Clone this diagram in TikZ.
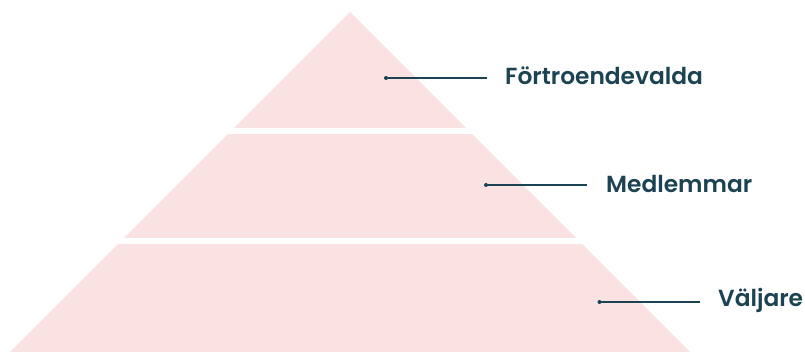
\documentclass[tikz,border=0pt]{standalone}
\usepackage{fontspec}
\newfontfamily\labelfont{Poppins}[BoldFont=* SemiBold]
\definecolor{pyrpink}{RGB}{250,226,226}
\definecolor{labteal}{RGB}{27,67,83}
\begin{document}
\begin{tikzpicture}[x=1pt,y=-1pt,
  band/.style={fill=pyrpink,draw=none},
  gap/.style={fill=white,draw=none},
  leader/.style={draw=labteal,line width=1.1pt},
  dotmark/.style={circle,fill=labteal,inner sep=0pt,minimum size=4pt},
  lab/.style={font=\labelfont\bfseries\fontsize{23.3}{26}\selectfont,text=labteal,anchor=west,inner sep=0pt}]
\useasboundingbox (0,0) rectangle (805,352);
\fill[white] (0,0) rectangle (805,352);
% pyramid
\path[band] (350,12) -- (690,352) -- (10,352) -- cycle;
\path[gap] (0,127.7) rectangle (805,134);
\path[gap] (0,237.7) rectangle (805,244.3);
% leaders
\node[dotmark] (d1) at (386,78) {};
\coordinate (e1) at (487,78);
\node[dotmark] (d2) at (486,185) {};
\coordinate (e2) at (587,185);
\node[dotmark] (d3) at (599.5,302) {};
\coordinate (e3) at (700,302);
\draw[leader] (d1.center) -- (e1);
\draw[leader] (d2.center) -- (e2);
\draw[leader] (d3.center) -- (e3);
\node[lab] (t1) at (505,76) {Förtroendevalda};
\node[lab] (t2) at (606,184) {Medlemmar};
\node[lab] (t3) at (718,300) {Väljare};
\end{tikzpicture}
\end{document}
